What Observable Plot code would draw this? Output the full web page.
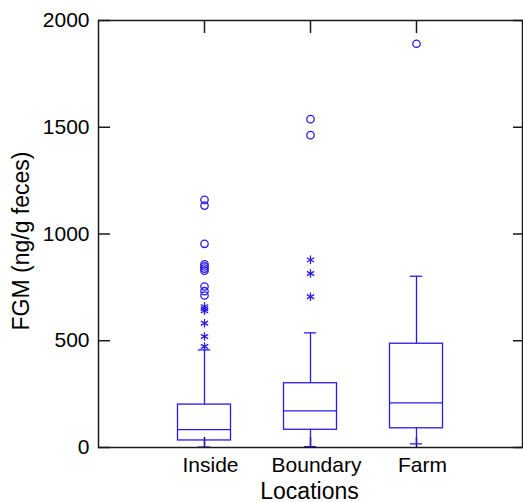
<!DOCTYPE html>
<html>
<head>
<meta charset="utf-8">
<script src="https://cdn.jsdelivr.net/npm/d3@7"></script>
<script src="https://cdn.jsdelivr.net/npm/@observablehq/plot@0.6"></script>
<style>
  html, body { margin: 0; padding: 0; background: #fff; }
  svg { display: block; }
</style>
</head>
<body>
<div id="chart"></div>
<script>
// ---- data ----
const categories   = ["Inside", "Boundary", "Farm"];
const whiskerLow   = [2, 4, 17];
const q1           = [33, 83, 90];
const median       = [84, 172, 209];
const q3           = [201, 301, 486];
const whiskerHigh  = [457, 537, 802];
// outliers (circles) and extreme values (asterisks) per category
const circleValues = [
  [712, 732, 754, 828, 838, 848, 858, 954, 1133, 1160],
  [1463, 1538],
  [1891]
];
const starValues = [
  [473, 520, 582, 640, 650, 660],
  [706, 815, 879],
  []
];
const yTicks = [0, 500, 1000, 1500, 2000];

// ---- build tables ----
const boxes = categories.map((c, i) => ({
  cat: c, pos: i + 1,
  lo: whiskerLow[i], q1: q1[i], med: median[i], q3: q3[i], hi: whiskerHigh[i]
}));
const circles = circleValues.flatMap((vals, i) => vals.map(v => ({pos: i + 1, v})));
const stars = starValues.flatMap((vals, i) => vals.map(v => ({pos: i + 1, v})));

const blue = "#2a1ce6";
const halfBox = 0.25, halfCap = 0.058;
const sw = 1.3;

const chart = Plot.plot({
  width: 523,
  height: 502,
  marginLeft: 98,
  marginRight: 1,
  marginTop: 20,
  marginBottom: 55,
  style: {fontFamily: "'Liberation Sans', Arial, sans-serif", fontSize: "21px", color: "#000", background: "#fff"},
  x: {domain: [0, 4], axis: null},
  y: {domain: [0, 2000], axis: null},
  marks: [
    // tick labels
    Plot.axisY({ticks: yTicks, anchor: "left", tickSize: 0, tickPadding: 9, label: null, fontSize: 21,
      tickFormat: d3.format("d")}),
    Plot.axisX({ticks: [1, 2, 3], anchor: "bottom", tickSize: 0, tickPadding: 10, label: null, fontSize: 21,
      tickFormat: d => categories[d - 1], dx: 6}),
    // inward ticks
    Plot.axisY({ticks: yTicks, anchor: "left", tickSize: 12, dx: 12, tickFormat: () => "", label: null, stroke: "#1a1a1a", strokeWidth: 1.5}),
    Plot.axisY({ticks: yTicks, anchor: "right", tickSize: 10, dx: -10, tickFormat: () => "", label: null, stroke: "#1a1a1a", strokeWidth: 1.5}),
    Plot.axisX({ticks: [1, 2, 3], anchor: "bottom", tickSize: 10, dy: -10, tickFormat: () => "", label: null, stroke: "#1a1a1a", strokeWidth: 1.5}),
    Plot.axisX({ticks: [1, 2, 3], anchor: "top", tickSize: 12, dy: 12, tickFormat: () => "", label: null, stroke: "#1a1a1a", strokeWidth: 1.5}),
    // whiskers
    Plot.ruleX(boxes, {x: "pos", y1: "lo", y2: "q1", stroke: blue, strokeWidth: sw}),
    Plot.ruleX(boxes, {x: "pos", y1: "q3", y2: "hi", stroke: blue, strokeWidth: sw}),
    Plot.ruleY(boxes, {y: "lo", x1: d => d.pos - halfCap, x2: d => d.pos + halfCap, stroke: blue, strokeWidth: sw}),
    Plot.ruleY(boxes, {y: "hi", x1: d => d.pos - halfCap, x2: d => d.pos + halfCap, stroke: blue, strokeWidth: sw}),
    // boxes
    Plot.rect(boxes, {x1: d => d.pos - halfBox, x2: d => d.pos + halfBox, y1: "q1", y2: "q3", fill: "none", stroke: blue, strokeWidth: sw}),
    Plot.ruleY(boxes, {y: "med", x1: d => d.pos - halfBox, x2: d => d.pos + halfBox, stroke: blue, strokeWidth: sw}),
    // outliers
    Plot.dot(circles, {x: "pos", y: "v", r: 3.7, stroke: blue, strokeWidth: sw, fill: "none"}),
    Plot.dot(stars, {x: "pos", y: "v", r: 4, symbol: "asterisk", stroke: blue, strokeWidth: sw}),
    // frame
    Plot.frame({stroke: "#1a1a1a", strokeWidth: 1.5}),
    // axis titles
    Plot.text(["FGM (ng/g feces)"], {frameAnchor: "left", textAnchor: "middle", lineAnchor: "middle", rotate: -90, dx: -77, dy: 7, fontSize: 23, fill: "#000"}),
    Plot.text(["Locations"], {frameAnchor: "bottom", textAnchor: "middle", lineAnchor: "bottom", dx: -1, dy: 51, fontSize: 23, fill: "#000"})
  ]
});
document.getElementById("chart").appendChild(chart);
</script>
</body>
</html>
